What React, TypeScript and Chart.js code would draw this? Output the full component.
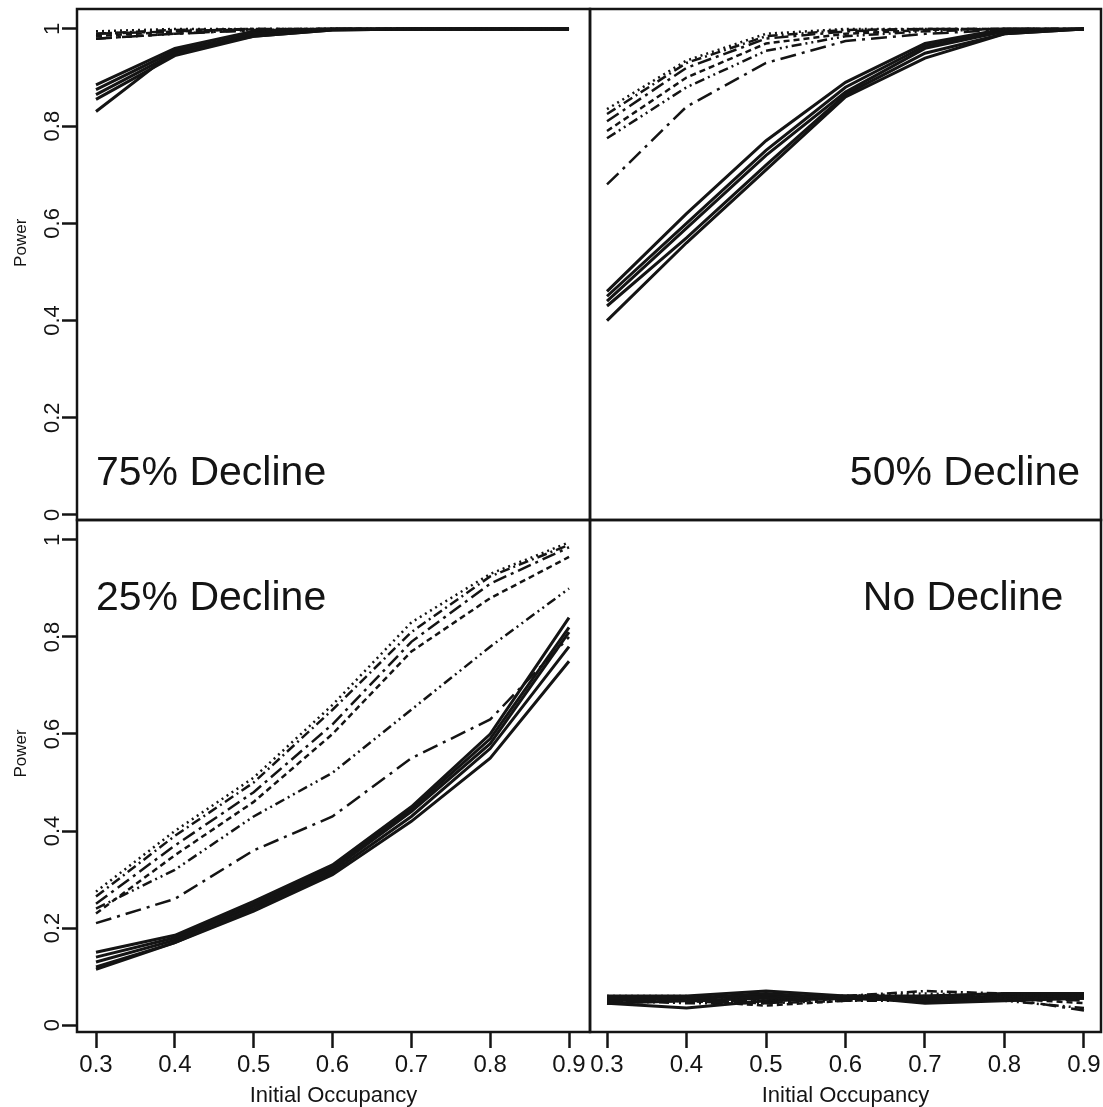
import React, { useEffect, useRef } from "react";
import { Chart, registerables } from "chart.js";

Chart.register(...registerables);

const FONT = "'Liberation Sans', Arial, Helvetica, sans-serif";
const INK = "#141414";

const X_VALUES = [0.3, 0.4, 0.5, 0.6, 0.7, 0.8, 0.9];
const X_TICKS = [0.3, 0.4, 0.5, 0.6, 0.7, 0.8, 0.9];
const Y_TICKS = [0, 0.2, 0.4, 0.6, 0.8, 1];

// 75% decline
const D75_SOLID = [
  [0.885, 0.96, 0.995, 1, 1, 1, 1],
  [0.875, 0.955, 0.99, 1, 1, 1, 1],
  [0.865, 0.95, 0.99, 0.999, 1, 1, 1],
  [0.855, 0.945, 0.985, 0.998, 1, 1, 1],
  [0.83, 0.955, 0.985, 0.998, 1, 1, 1],
];
const D75_DASH = [
  [0.995, 1, 1, 1, 1, 1, 1],
  [0.99, 0.998, 1, 1, 1, 1, 1],
  [0.99, 0.995, 1, 1, 1, 1, 1],
  [0.985, 0.995, 0.999, 1, 1, 1, 1],
  [0.98, 0.99, 0.998, 1, 1, 1, 1],
  [0.98, 0.99, 0.997, 1, 1, 1, 1],
];

// 50% decline
const D50_SOLID = [
  [0.46, 0.62, 0.77, 0.89, 0.97, 1, 1],
  [0.45, 0.6, 0.75, 0.88, 0.965, 0.995, 1],
  [0.44, 0.59, 0.74, 0.87, 0.96, 0.995, 1],
  [0.43, 0.57, 0.72, 0.865, 0.95, 0.99, 1],
  [0.4, 0.56, 0.71, 0.86, 0.94, 0.99, 1],
];
const D50_DASH = [
  [0.835, 0.935, 0.99, 1, 1, 1, 1],
  [0.825, 0.93, 0.985, 0.998, 1, 1, 1],
  [0.81, 0.92, 0.98, 0.995, 1, 1, 1],
  [0.79, 0.9, 0.97, 0.99, 0.998, 1, 1],
  [0.775, 0.88, 0.955, 0.985, 0.995, 1, 1],
  [0.68, 0.84, 0.93, 0.975, 0.99, 0.998, 1],
];

// 25% decline
const D25_SOLID = [
  [0.15, 0.185, 0.255, 0.33, 0.45, 0.6, 0.84],
  [0.14, 0.18, 0.25, 0.325, 0.445, 0.59, 0.82],
  [0.13, 0.175, 0.245, 0.32, 0.44, 0.58, 0.81],
  [0.12, 0.17, 0.24, 0.315, 0.43, 0.57, 0.78],
  [0.115, 0.17, 0.235, 0.31, 0.42, 0.55, 0.75],
];
const D25_DASH = [
  [0.275, 0.4, 0.51, 0.66, 0.83, 0.93, 0.995],
  [0.265, 0.39, 0.5, 0.65, 0.81, 0.925, 0.99],
  [0.25, 0.37, 0.48, 0.62, 0.79, 0.91, 0.985],
  [0.23, 0.35, 0.46, 0.6, 0.77, 0.88, 0.965],
  [0.24, 0.32, 0.43, 0.52, 0.65, 0.78, 0.9],
  [0.21, 0.26, 0.36, 0.43, 0.55, 0.63, 0.8],
];

// No decline
const D0_SOLID = [
  [0.06, 0.06, 0.07, 0.06, 0.06, 0.065, 0.065],
  [0.055, 0.055, 0.065, 0.055, 0.055, 0.06, 0.06],
  [0.05, 0.055, 0.06, 0.055, 0.05, 0.055, 0.055],
  [0.045, 0.05, 0.055, 0.06, 0.045, 0.05, 0.055],
  [0.045, 0.035, 0.05, 0.055, 0.05, 0.055, 0.06],
];
const D0_DASH = [
  [0.06, 0.06, 0.05, 0.06, 0.065, 0.06, 0.06],
  [0.055, 0.055, 0.055, 0.06, 0.07, 0.065, 0.055],
  [0.05, 0.05, 0.045, 0.055, 0.06, 0.06, 0.05],
  [0.045, 0.05, 0.04, 0.05, 0.055, 0.055, 0.045],
  [0.05, 0.045, 0.045, 0.05, 0.05, 0.05, 0.035],
  [0.055, 0.05, 0.05, 0.055, 0.06, 0.055, 0.03],
];

const DASH_STYLES = [
  [2, 4],
  [10, 4, 2, 4],
  [14, 5, 3, 5],
  [6, 4],
  [10, 4, 2, 4, 2, 4],
  [16, 6, 3, 6],
];

const W = 1103;
const H = 1107;

type Panel = {
  solid: number[][];
  dash: number[][];
  label: string;
  labelX: number;
  labelY: number;
  labelAlign: CanvasTextAlign;
  rect: { l: number; r: number; t: number; b: number };
  xr: [number, number];
  yr: [number, number];
  showY: boolean;
  showX: boolean;
};

const PANELS: Panel[] = [
  {
    solid: D75_SOLID, dash: D75_DASH, label: "75% Decline", labelX: 0.3, labelY: 0.062, labelAlign: "left",
    rect: { l: 77, r: 590, t: 9, b: 520 }, xr: [0.2759, 0.9266], yr: [-0.0103, 1.041], showY: true, showX: false,
  },
  {
    solid: D50_SOLID, dash: D50_DASH, label: "50% Decline", labelX: 0.895, labelY: 0.062, labelAlign: "right",
    rect: { l: 590, r: 1101, t: 9, b: 520 }, xr: [0.2786, 0.9214], yr: [-0.0103, 1.041], showY: false, showX: false,
  },
  {
    solid: D25_SOLID, dash: D25_DASH, label: "25% Decline", labelX: 0.3, labelY: 0.855, labelAlign: "left",
    rect: { l: 77, r: 590, t: 520, b: 1032 }, xr: [0.2759, 0.9266], yr: [-0.0144, 1.0412], showY: true, showX: true,
  },
  {
    solid: D0_SOLID, dash: D0_DASH, label: "No Decline", labelX: 0.874, labelY: 0.855, labelAlign: "right",
    rect: { l: 590, r: 1101, t: 520, b: 1032 }, xr: [0.2786, 0.9214], yr: [-0.0144, 1.0412], showY: false, showX: true,
  },
];

const Y_TITLE = "Power";
const Y_TITLE_AT = 0.56;

const framePlugin = {
  id: "frame",
  afterDraw(chart: any) {
    const { ctx, chartArea } = chart;
    ctx.save();
    ctx.strokeStyle = INK;
    ctx.lineWidth = 2.5;
    ctx.strokeRect(chartArea.left, chartArea.top, chartArea.right - chartArea.left, chartArea.bottom - chartArea.top);
    ctx.restore();
  },
};

const labelPlugin = {
  id: "panelLabel",
  afterDatasetsDraw(chart: any, _args: any, opts: any) {
    const { ctx, scales } = chart;
    ctx.save();
    ctx.fillStyle = INK;
    ctx.font = `41px ${FONT}`;
    ctx.textAlign = opts.align;
    ctx.textBaseline = "alphabetic";
    ctx.fillText(opts.text, scales.x.getPixelForValue(opts.x), scales.y.getPixelForValue(opts.y));
    if (opts.showY) {
      ctx.translate(21, scales.y.getPixelForValue(Y_TITLE_AT));
      ctx.rotate(-Math.PI / 2);
      ctx.font = `17px ${FONT}`;
      ctx.textAlign = "center";
      ctx.textBaseline = "middle";
      ctx.fillText(Y_TITLE, 0, 0);
    }
    ctx.restore();
  },
};

function PanelChart({ p }: { p: Panel }) {
  const ref = useRef<HTMLCanvasElement>(null);
  useEffect(() => {
    const datasets: any[] = [];
    p.dash.forEach((s, i) => {
      datasets.push({
        data: X_VALUES.map((x, j) => ({ x, y: s[j] })),
        borderColor: INK,
        borderWidth: 2.5,
        borderDash: DASH_STYLES[i % DASH_STYLES.length],
        pointRadius: 0,
        tension: 0,
        fill: false,
      });
    });
    p.solid.forEach((s) => {
      datasets.push({
        data: X_VALUES.map((x, j) => ({ x, y: s[j] })),
        borderColor: INK,
        borderWidth: 3,
        pointRadius: 0,
        tension: 0,
        fill: false,
      });
    });
    const chart = new Chart(ref.current as HTMLCanvasElement, {
      type: "line",
      data: { datasets },
      plugins: [framePlugin, labelPlugin],
      options: {
        responsive: false,
        animation: false,
        events: [],
        layout: {
          padding: {
            left: p.showY ? 0 : p.rect.l,
            right: W - p.rect.r,
            top: p.rect.t,
            bottom: p.showX ? 0 : H - p.rect.b,
          },
        },
        plugins: {
          legend: { display: false },
          tooltip: { enabled: false },
          panelLabel: { text: p.label, x: p.labelX, y: p.labelY, align: p.labelAlign, showY: p.showY },
        } as any,
        scales: {
          x: {
            type: "linear",
            min: p.xr[0],
            max: p.xr[1],
            display: p.showX,
            afterBuildTicks: (s: any) => {
              s.ticks = X_TICKS.map((v) => ({ value: v }));
            },
            afterFit: (s: any) => {
              if (p.showX) s.height = H - p.rect.b;
              s.paddingLeft = 0;
              s.paddingRight = 0;
            },
            ticks: {
              autoSkip: false,
              minRotation: 0,
              maxRotation: 0,
              padding: 3,
              color: INK,
              font: { family: FONT, size: 24 },
              callback: (v: any) => Number(v).toFixed(1),
            },
            grid: {
              display: true,
              drawOnChartArea: false,
              drawTicks: true,
              tickLength: 16,
              tickWidth: 2.5,
              tickColor: INK,
            },
            border: { display: false },
            title: {
              display: true,
              text: "Initial Occupancy",
              color: INK,
              font: { family: FONT, size: 22, lineHeight: 1 },
              padding: { top: 0, bottom: 0 },
            },
          },
          y: {
            type: "linear",
            min: p.yr[0],
            max: p.yr[1],
            display: p.showY,
            afterBuildTicks: (s: any) => {
              s.ticks = Y_TICKS.map((v) => ({ value: v }));
            },
            afterFit: (s: any) => {
              if (p.showY) s.width = p.rect.l;
              s.paddingTop = 0;
              s.paddingBottom = 0;
            },
            ticks: {
              autoSkip: false,
              minRotation: 90,
              maxRotation: 90,
              crossAlign: "center",
              padding: -6,
              color: INK,
              font: { family: FONT, size: 22 },
              callback: (v: any) => (v === 0 ? "0" : v === 1 ? "1" : Number(v).toFixed(1)),
            },
            grid: {
              display: true,
              drawOnChartArea: false,
              drawTicks: true,
              tickLength: 15,
              tickWidth: 2.5,
              tickColor: INK,
            },
            border: { display: false },
            title: { display: false },
          },
        },
      } as any,
    });
    return () => chart.destroy();
  }, [p]);
  return (
    <canvas
      ref={ref}
      width={W}
      height={H}
      style={{ position: "absolute", left: 0, top: 0, width: W, height: H }}
    />
  );
}

export default function App() {
  return (
    <div
      style={{
        position: "absolute",
        left: 0,
        top: 0,
        width: W,
        height: H,
        background: "#fff",
        overflow: "hidden",
      }}
    >
      {PANELS.map((p, i) => (
        <PanelChart key={i} p={p} />
      ))}
    </div>
  );
}
